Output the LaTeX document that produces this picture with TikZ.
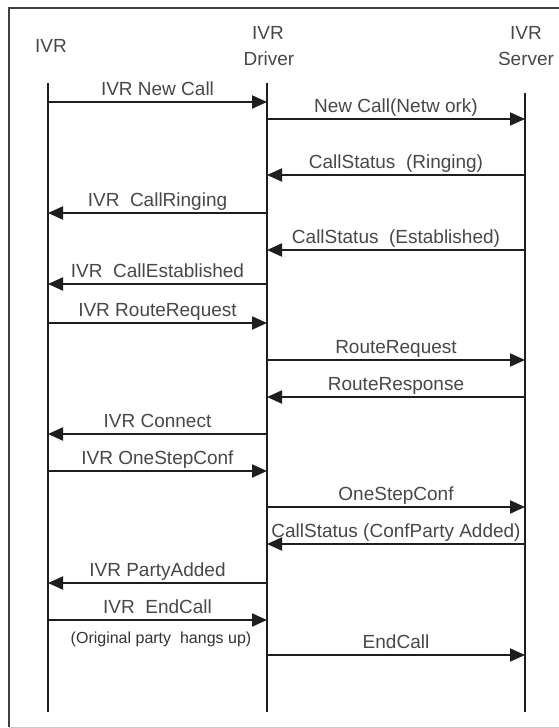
\documentclass[tikz,border=0pt]{standalone}
\usepackage{fontspec}
\setmainfont{Liberation Sans}
\usetikzlibrary{arrows.meta}
\definecolor{txt}{RGB}{72,72,72}
\definecolor{ink}{RGB}{30,30,30}
\tikzset{
  lifeline/.style={draw=ink, line width=2pt},
  msg/.style={draw=ink, line width=2pt, -{Triangle[length=15pt,width=13pt]}},
  lbl/.style={text=txt, font=\fontsize{19}{22}\selectfont, inner sep=0pt, anchor=base, yshift=7pt},
  hdr/.style={text=txt, font=\fontsize{19}{24}\selectfont, inner sep=0pt, align=center},
  note/.style={text=black!80, font=\fontsize{16}{18}\selectfont, inner sep=0pt, anchor=base},
  frameline/.style={draw=black!75, line width=2pt},
}
\begin{document}
\begin{tikzpicture}[x=1pt, y=-1pt]
\useasboundingbox (0,0) rectangle (558,728);
\fill[white] (0,0) rectangle (558,728);
% frame
\draw[frameline] (570,8) -- (9,8) -- (9,727);
\draw[draw=black!20, line width=1pt] (9,727) -- (570,727);
% headers
\node[hdr] (hIVR) at (51,46) {IVR};
\node[hdr] (hDrv1) at (268,33) {IVR};
\node[hdr] (hDrv2) at (269,59) {Driver};
\node[hdr] (hSrv1) at (526,33) {IVR};
\node[hdr] (hSrv2) at (526,59) {Server};
% lifelines
\coordinate (ivrTop) at (48,83);
\coordinate (ivrBot) at (48,712);
\coordinate (drvTop) at (267,83);
\coordinate (drvBot) at (267,712);
\coordinate (srvTop) at (525,93);
\coordinate (srvBot) at (525,712);
\draw[lifeline] (ivrTop) -- (ivrBot);
\draw[lifeline] (drvTop) -- (drvBot);
\draw[lifeline] (srvTop) -- (srvBot);
% message end points
\foreach \n/\y in {1/102,2/119,3/175,4/213,5/250,6/284,7/323,8/360,9/397,10/434,11/471,12/507,13/544,14/583,15/620,16/655}{
  \coordinate (i\n) at (48,\y);
  \coordinate (d\n) at (267,\y);
  \coordinate (s\n) at (525,\y);
}
% messages
\draw[msg] (i1) -- node[lbl] (l1) {IVR New Call} (d1);
\draw[msg] (d2) -- node[lbl] (l2) {New Call(Netw ork)} (s2);
\draw[msg] (s3) -- node[lbl] (l3) {CallStatus\ \ (Ringing)} (d3);
\draw[msg] (d4) -- node[lbl] (l4) {IVR\ \ CallRinging} (i4);
\draw[msg] (s5) -- node[lbl] (l5) {CallStatus\ \ (Established)} (d5);
\draw[msg] (d6) -- node[lbl] (l6) {IVR\ \ CallEstablished} (i6);
\draw[msg] (i7) -- node[lbl] (l7) {IVR RouteRequest} (d7);
\draw[msg] (d8) -- node[lbl] (l8) {RouteRequest} (s8);
\draw[msg] (s9) -- node[lbl] (l9) {RouteResponse} (d9);
\draw[msg] (d10) -- node[lbl] (l10) {IVR Connect} (i10);
\draw[msg] (i11) -- node[lbl] (l11) {IVR OneStepConf} (d11);
\draw[msg] (d12) -- node[lbl] (l12) {OneStepConf} (s12);
\draw[msg] (s13) -- node[lbl] (l13) {CallStatus (ConfParty Added)} (d13);
\draw[msg] (d14) -- node[lbl] (l14) {IVR PartyAdded} (i14);
\draw[msg] (i15) -- node[lbl] (l15) {IVR\ \ EndCall} (d15);
\node[note] (n15) at (161,643.5) {(Original party\ \ hangs up)};
\draw[msg] (d16) -- node[lbl] (l16) {EndCall} (s16);
\end{tikzpicture}
\end{document}
